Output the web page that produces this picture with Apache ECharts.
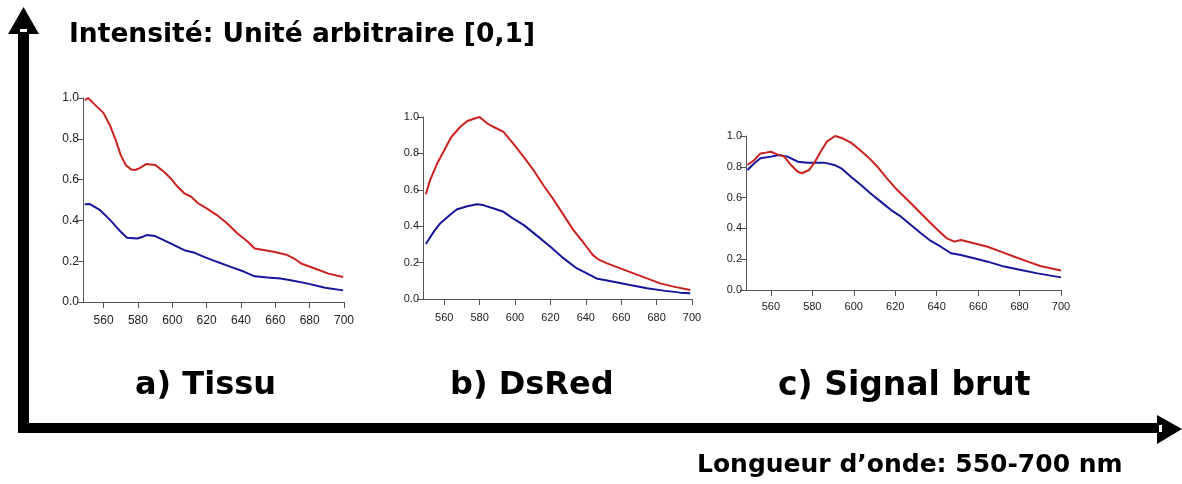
<!DOCTYPE html>
<html><head><meta charset="utf-8">
<script src="https://cdn.jsdelivr.net/npm/echarts@6/dist/echarts.min.js"></script>
<style>html,body{margin:0;padding:0;background:#fff}#c{width:1182px;height:484px}</style>
</head><body><div id="c"></div>
<script>
// ---- data (wavelength nm, normalised intensity) ----
const xTicks = [560, 580, 600, 620, 640, 660, 680, 700];
const panelTitles = ['a) Tissu', 'b) DsRed', 'c) Signal brut'];
const yTitle = 'Intensité: Unité arbitraire [0,1]';
const xTitle = 'Longueur d\u2019onde: 550-700 nm';

const tissuRouge = [[549,0.99],[551,1.0],[554,0.975],[560,0.926],[564,0.86],[567,0.795],[570,0.72],[573,0.67],[576,0.65],[578.5,0.647],[581,0.656],[585,0.677],[590,0.672],[595,0.64],[599,0.607],[603,0.566],[607,0.533],[611,0.516],[615,0.484],[620,0.459],[626,0.426],[632,0.385],[638,0.336],[644,0.295],[648,0.262],[654,0.254],[659,0.246],[667,0.23],[671,0.213],[675,0.189],[683,0.164],[691,0.139],[699.5,0.123]];
const tissuBleu = [[549,0.479],[552,0.48],[558,0.45],[564,0.40],[570,0.344],[573.6,0.315],[579.5,0.311],[583,0.32],[585,0.328],[590,0.323],[595,0.303],[601,0.279],[607,0.254],[613,0.241],[618.5,0.221],[626,0.197],[634,0.172],[642,0.148],[648,0.126],[655.5,0.12],[663,0.115],[669,0.107],[679,0.09],[689,0.07],[699.5,0.057]];
const dsredRouge = [[549.6,0.576],[552,0.653],[556,0.744],[560,0.817],[564,0.89],[569,0.945],[573,0.978],[578.5,0.996],[580,1.0],[584,0.967],[588,0.945],[593.5,0.918],[599,0.854],[605,0.78],[610.5,0.707],[616,0.625],[622,0.543],[627.5,0.461],[633,0.378],[639,0.305],[644,0.241],[647,0.218],[652,0.196],[659.5,0.168],[667,0.141],[674.6,0.113],[682,0.086],[689.6,0.068],[699,0.049]];
const dsredBleu = [[549.6,0.302],[554,0.369],[557.7,0.415],[563,0.46],[567,0.492],[573,0.51],[578.5,0.521],[582,0.516],[588,0.497],[593.5,0.479],[599,0.442],[605,0.406],[612,0.351],[620,0.287],[627.5,0.223],[635,0.168],[640.6,0.141],[646,0.113],[655.7,0.095],[665,0.077],[674.6,0.059],[684,0.046],[693.4,0.035],[699,0.031]];
const brutRouge = [[548.7,0.812],[552,0.844],[555,0.887],[557.6,0.892],[560,0.898],[563,0.881],[566.4,0.866],[569.7,0.812],[573,0.768],[575,0.758],[578.5,0.779],[581,0.827],[584,0.898],[587,0.963],[591,1.0],[594.6,0.985],[598.6,0.957],[602,0.92],[606.7,0.866],[611.5,0.80],[616,0.725],[621,0.649],[626,0.584],[630.8,0.519],[635.6,0.455],[640.5,0.39],[645,0.335],[648.5,0.314],[651.7,0.325],[658,0.303],[664.6,0.281],[671,0.249],[677.5,0.216],[684,0.184],[690,0.156],[700,0.126]];
const brutBleu = [[548.7,0.779],[552,0.823],[555,0.855],[560,0.866],[564,0.877],[568,0.866],[573,0.833],[577.7,0.827],[582.5,0.827],[585.7,0.827],[590.6,0.812],[594,0.79],[598.6,0.736],[603.5,0.682],[608,0.628],[613,0.574],[618,0.519],[622.8,0.476],[627.6,0.422],[632.4,0.368],[637,0.32],[642,0.281],[647,0.238],[651.7,0.227],[658,0.206],[664.6,0.184],[672.6,0.152],[680.7,0.13],[688.7,0.108],[700,0.082]];

// ---- layout ----
const grids = [
  {left: 83, top: 98, width: 261, height: 204, off: 3, font: 12, lm: 10},
  {left: 423, top: 117, width: 269, height: 182, off: 1, font: 11, lm: 12},
  {left: 746, top: 136, width: 315, height: 154, off: 1, font: 11, lm: 10}
];
const seriesSets = [[tissuRouge, tissuBleu], [dsredRouge, dsredBleu], [brutRouge, brutBleu]];
const RED = '#c9221f', BLUE = '#16169a';
const axisCol = '#555';
const labFont = '"Liberation Sans Narrow","Liberation Sans",Arial,sans-serif';
const bigFont = '"DejaVu Sans", sans-serif';

const option = {
  animation: false,
  backgroundColor: '#fff',
  grid: grids.map(g => ({left: g.left, top: g.top, width: g.width, height: g.height, containLabel: false})),
  xAxis: grids.map((g, i) => ({
    gridIndex: i, type: 'value', min: 548, max: 700, offset: g.off,
    splitLine: {show: false},
    axisLine: {show: true, lineStyle: {color: axisCol, width: 1}},
    axisTick: {show: true, length: 6, customValues: xTicks, lineStyle: {color: axisCol}},
    axisLabel: {customValues: xTicks, color: '#222', fontSize: g.font, fontFamily: labFont, margin: g.lm}
  })),
  yAxis: grids.map((g, i) => ({
    gridIndex: i, type: 'value', min: 0, max: 1, interval: 0.2,
    splitLine: {show: false},
    axisLine: {show: true, lineStyle: {color: axisCol, width: 1}},
    axisTick: {show: true, length: 6, lineStyle: {color: axisCol}},
    axisLabel: {color: '#222', fontSize: g.font, fontFamily: labFont, margin: 4,
      formatter: v => v.toFixed(1)}
  })),
  series: seriesSets.flatMap((pair, i) => [
    {type: 'line', xAxisIndex: i, yAxisIndex: i, data: pair[0], showSymbol: false, symbol: 'none',
     lineStyle: {color: RED, width: 2}, z: 3},
    {type: 'line', xAxisIndex: i, yAxisIndex: i, data: pair[1], showSymbol: false, symbol: 'none',
     lineStyle: {color: BLUE, width: 2}, z: 2}
  ]),
  title: [
    {text: yTitle, left: 64, top: 17, textStyle: {fontSize: 26.5, fontWeight: 'bold', color: '#000', fontFamily: bigFont}},
    {text: xTitle, left: 692, top: 448, textStyle: {fontSize: 25, fontWeight: 'bold', color: '#000', fontFamily: bigFont}},
    {text: panelTitles[0], left: 130, top: 365, textStyle: {fontSize: 32, fontWeight: 'bold', color: '#000', fontFamily: bigFont}},
    {text: panelTitles[1], left: 445, top: 365, textStyle: {fontSize: 32, fontWeight: 'bold', color: '#000', fontFamily: bigFont}},
    {text: panelTitles[2], left: 773, top: 365, textStyle: {fontSize: 33, fontWeight: 'bold', color: '#000', fontFamily: bigFont}}
  ],
  graphic: [
    {type: 'rect', shape: {x: 18, y: 30, width: 11, height: 403}, style: {fill: '#000'}},
    {type: 'polygon', shape: {points: [[8, 34], [23.5, 7], [39, 34]]}, style: {fill: '#000'}},
    {type: 'rect', shape: {x: 20, y: 29, width: 7, height: 3}, style: {fill: '#fff'}, z: 10},
    {type: 'rect', shape: {x: 18, y: 423, width: 1142, height: 10}, style: {fill: '#000'}},
    {type: 'polygon', shape: {points: [[1157, 415], [1182, 429], [1157, 444]]}, style: {fill: '#000'}},
    {type: 'rect', shape: {x: 1159, y: 425, width: 3, height: 7}, style: {fill: '#fff'}, z: 10}
  ]
};
const chart = echarts.init(document.getElementById('c'), null, {renderer: 'canvas'});
chart.setOption(option);
</script>
</body></html>
